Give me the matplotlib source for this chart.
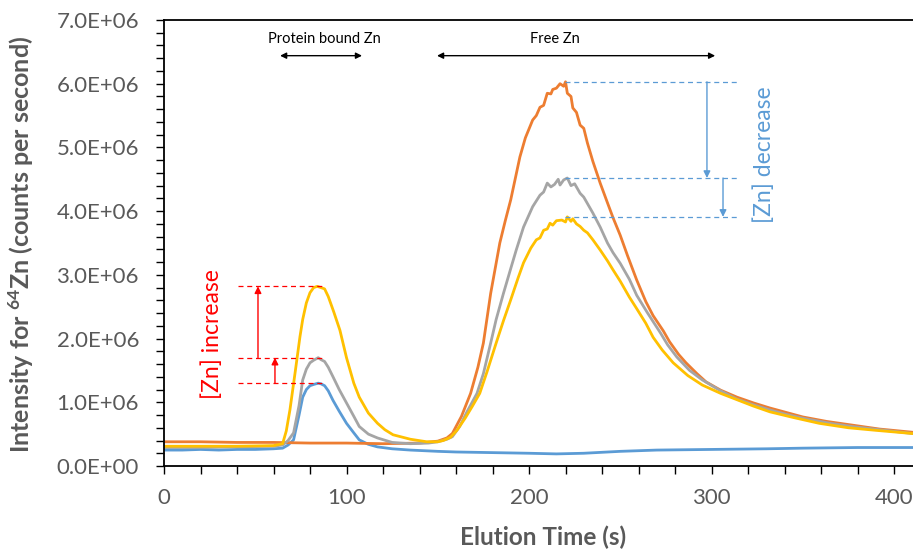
import matplotlib
matplotlib.use("Agg")
import matplotlib.pyplot as plt
from matplotlib.ticker import MultipleLocator, FuncFormatter

plt.rcParams['font.family'] = ['Lato', 'DejaVu Sans']
plt.rcParams['mathtext.fontset'] = 'custom'
plt.rcParams['mathtext.rm'] = 'Lato'
plt.rcParams['mathtext.bf'] = 'Lato:bold'

# -- Data (time in s, intensity in millions of counts/s)

blue_t = [0, 10, 20, 30, 40, 50, 60, 65, 68, 71, 74, 76, 78, 80, 82, 84.5, 86, 88, 90,
          92.6, 96, 100, 104, 107, 112, 117, 125, 135, 150, 160, 180, 200, 215, 230,
          250, 270, 300, 330, 350, 380, 410]
blue_v = [0.25, 0.25, 0.26, 0.25, 0.26, 0.26, 0.27, 0.28, 0.33, 0.41, 0.80, 1.08, 1.20,
          1.26, 1.28, 1.30, 1.29, 1.26, 1.18, 1.03, 0.86, 0.67, 0.52, 0.41, 0.34, 0.30,
          0.27, 0.25, 0.23, 0.22, 0.21, 0.20, 0.19, 0.20, 0.23, 0.25, 0.26, 0.27, 0.28,
          0.29, 0.29]

orange_t = [0, 20, 40, 60, 80, 100, 120, 140, 150, 155, 158, 163, 168, 172, 175, 179,
            184, 187, 190, 195, 198, 202, 204, 206, 208, 210, 212, 213, 215, 217, 219, 220,
            221, 223, 224, 226, 228, 230, 232, 235, 239, 243, 246, 250, 254, 259, 264, 268,
            273.6, 277, 282, 286, 292, 297, 305, 314, 323, 332, 341, 350, 363, 377.5, 392,
            410]
orange_v = [0.38, 0.38, 0.37, 0.37, 0.36, 0.36, 0.35, 0.36, 0.39, 0.44, 0.51, 0.78, 1.14,
            1.55, 1.93, 2.71, 3.50, 3.85, 4.18, 4.85, 5.15, 5.43, 5.50, 5.63, 5.66, 5.85,
            5.84, 5.91, 5.93, 6.00, 5.96, 6.03, 5.85, 5.80, 5.62, 5.55, 5.35, 5.30, 5.07,
            4.78, 4.44, 4.13, 3.90, 3.62, 3.30, 2.92, 2.58, 2.36, 2.12, 1.95, 1.75, 1.62,
            1.45, 1.32, 1.19, 1.08, 0.99, 0.91, 0.84, 0.77, 0.70, 0.64, 0.58, 0.53]

gray_t = [0, 20, 40, 60, 65, 68, 71, 74, 76, 78, 80, 82, 84.5, 86, 88, 90, 92.6, 96, 100,
          104, 107, 112, 117, 125, 135, 145, 150, 155, 158, 162, 166, 171.5, 175, 179,
          182, 186, 190, 193, 197, 202, 204, 206, 208, 210, 212, 214, 216, 217, 219, 221,
          223, 225, 228, 230, 232, 235, 239, 243, 246, 250, 255, 259, 265, 272, 276, 281,
          288, 295, 305, 314, 323, 332, 341, 350, 365, 377, 395, 410]
gray_v = [0.29, 0.29, 0.30, 0.31, 0.33, 0.40, 0.52, 0.95, 1.35, 1.52, 1.62, 1.66, 1.70,
          1.67, 1.64, 1.55, 1.40, 1.20, 0.99, 0.78, 0.62, 0.50, 0.44, 0.37, 0.35, 0.36,
          0.38, 0.42, 0.46, 0.62, 0.85, 1.14, 1.45, 1.93, 2.30, 2.71, 3.10, 3.39, 3.75,
          4.07, 4.16, 4.25, 4.30, 4.44, 4.38, 4.42, 4.50, 4.41, 4.49, 4.52, 4.40, 4.43,
          4.28, 4.22, 4.12, 3.97, 3.75, 3.50, 3.35, 3.18, 2.93, 2.68, 2.40, 2.09, 1.90,
          1.71, 1.50, 1.35, 1.18, 1.05, 0.96, 0.88, 0.81, 0.75, 0.67, 0.62, 0.56, 0.51]

yellow_t = [0, 20, 40, 60, 65, 67, 69, 72, 74.5, 76, 78, 80, 82, 84, 86, 88, 90, 93, 96.4,
            100, 104, 107, 112, 117, 121, 125.5, 135, 144, 150, 153, 157, 160.5, 165, 169,
            173, 177, 182, 186, 190, 194, 197, 201, 204, 206, 208, 210, 211.5, 213, 215,
            218, 220, 221, 223, 224, 226, 228, 230, 232, 235, 239, 243, 246, 250, 255, 259,
            264, 268, 273, 279, 287, 295, 305, 314, 323, 332, 345, 359, 375, 390, 410]
yellow_v = [0.31, 0.31, 0.31, 0.32, 0.35, 0.55, 0.88, 1.50, 2.03, 2.30, 2.56, 2.72, 2.80,
            2.82, 2.80, 2.78, 2.66, 2.42, 2.13, 1.70, 1.30, 1.08, 0.83, 0.67, 0.57, 0.49,
            0.42, 0.38, 0.38, 0.40, 0.45, 0.56, 0.75, 0.94, 1.14, 1.48, 1.93, 2.28, 2.61,
            2.95, 3.19, 3.42, 3.55, 3.58, 3.70, 3.72, 3.81, 3.78, 3.85, 3.86, 3.83, 3.91,
            3.84, 3.88, 3.80, 3.76, 3.70, 3.66, 3.55, 3.39, 3.22, 3.08, 2.90, 2.65, 2.47,
            2.24, 2.02, 1.82, 1.62, 1.42, 1.27, 1.14, 1.04, 0.94, 0.85, 0.76, 0.67, 0.60,
            0.56, 0.51]

SCALE = 1e6
GREY_TXT = '#595959'
RED = '#FF0000'
BLUE_TXT = '#5B9BD5'


def sci_fmt(v, pos):
    if v == 0:
        return "0.0E+00"
    return f"{v / 1e6:.1f}E+06"


def peak_in(t, v, lo, hi):
    # highest value within a time window
    return max(val for tt, val in zip(t, v) if lo <= tt <= hi) * SCALE


fig = plt.figure(figsize=(9.13, 5.54), dpi=100)
ax = fig.add_axes([164 / 913, 88 / 554, 749 / 913, 446 / 554])

series = [
    (blue_t, blue_v, '#5B9BD5'),
    (orange_t, orange_v, '#ED7D31'),
    (gray_t, gray_v, '#A5A5A5'),
    (yellow_t, yellow_v, '#FFC000'),
]
for t, v, c in series:
    ax.plot(t, [x * SCALE for x in v], color=c, lw=2.0, solid_joinstyle='round')

ax.set_xlim(0, 410.4)
ax.set_ylim(0, 7e6)
ax.xaxis.set_major_locator(MultipleLocator(100))
ax.xaxis.set_minor_locator(MultipleLocator(20))
ax.yaxis.set_major_locator(MultipleLocator(1e6))
ax.yaxis.set_minor_locator(MultipleLocator(2e5))
ax.yaxis.set_major_formatter(FuncFormatter(sci_fmt))
ax.tick_params(which='both', direction='out', length=6, width=1, color='black')
ax.tick_params(which='major', labelsize=16, labelcolor=GREY_TXT)
ax.tick_params(axis='y', which='major', pad=12)
ax.tick_params(axis='x', which='major', pad=10)
ax.spines['right'].set_visible(False)
for s in ['left', 'bottom', 'top']:
    ax.spines[s].set_linewidth(1.3)

ax.set_ylabel(r"Intensity for $\mathbf{^{64}}$Zn (counts per second)", fontsize=18,
              fontweight='bold', color=GREY_TXT)
ax.yaxis.set_label_coords(-0.171, 0.496)
ax.set_xlabel("Elution Time (s)", fontsize=17.5, fontweight='bold', color=GREY_TXT)
ax.xaxis.set_label_coords(0.506, -0.133)

# -- Region labels at the top
arrow_kw = dict(arrowstyle='<|-|>', color='black', lw=1, mutation_scale=9,
                shrinkA=0, shrinkB=0)
ax.annotate('', xy=(108.5, 6.44e6), xytext=(63.6, 6.44e6), arrowprops=arrow_kw)
ax.annotate('', xy=(302, 6.44e6), xytext=(149.6, 6.44e6), arrowprops=arrow_kw)
ax.text(88, 6.70e6, 'Protein bound Zn', fontsize=10.5, ha='center', va='center')
ax.text(214, 6.70e6, 'Free Zn', fontsize=10.5, ha='center', va='center')

# -- [Zn] increase (protein-bound peaks)
y_blue = peak_in(blue_t, blue_v, 60, 120)
y_gray = peak_in(gray_t, gray_v, 60, 120)
y_yel = peak_in(yellow_t, yellow_v, 60, 120)
for y in (y_blue, y_gray, y_yel):
    ax.plot([40.5, 87.7], [y, y], color=RED, lw=0.9, ls=(0, (4, 3)))
up_kw = dict(arrowstyle='-|>', color=RED, lw=1, mutation_scale=10, shrinkA=0, shrinkB=0)
ax.annotate('', xy=(51.5, y_yel), xytext=(51.5, y_gray), arrowprops=up_kw)
ax.annotate('', xy=(60.8, y_gray), xytext=(60.8, y_blue), arrowprops=up_kw)
ax.text(26.3, 2.07e6, '[Zn] increase', rotation=90, color=RED, fontsize=16.5,
        ha='center', va='center')

# -- [Zn] decrease (free Zn peaks)
f_or = peak_in(orange_t, orange_v, 150, 300)
f_gr = peak_in(gray_t, gray_v, 150, 300)
f_ye = peak_in(yellow_t, yellow_v, 150, 300)
for y in (f_or, f_gr, f_ye):
    ax.plot([219.7, 314.5], [y, y], color=BLUE_TXT, lw=0.9, ls=(0, (4, 3)))
dn_kw = dict(arrowstyle='-|>', color=BLUE_TXT, lw=1, mutation_scale=10, shrinkA=0, shrinkB=0)
ax.annotate('', xy=(297.5, f_gr), xytext=(297.5, f_or), arrowprops=dn_kw)
ax.annotate('', xy=(306.3, f_ye), xytext=(306.3, f_gr), arrowprops=dn_kw)
ax.text(329, 4.88e6, '[Zn] decrease', rotation=90, color=BLUE_TXT, fontsize=16.5,
        ha='center', va='center')

fig.savefig('out.png', dpi=100)
